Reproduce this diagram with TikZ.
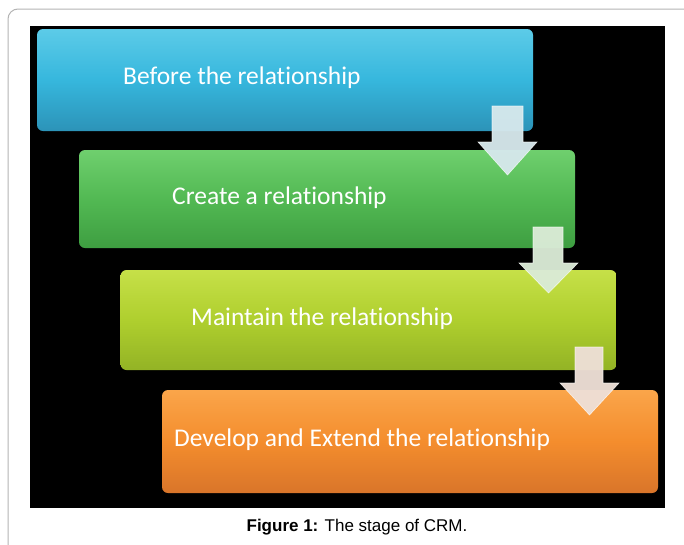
\documentclass[tikz,border=0pt]{standalone}
\usepackage{fontspec}
\setmainfont[Ligatures=NoCommon]{Carlito}
\newfontfamily\capfont{Liberation Sans}
\usetikzlibrary{calc}
\definecolor{frame}{HTML}{B4B4B4}
\definecolor{bluetop}{HTML}{5CCBE8}
\definecolor{bluemid}{HTML}{36B7DD}
\definecolor{bluebot}{HTML}{2C93B8}
\definecolor{greentop}{HTML}{6FCF6E}
\definecolor{greenmid}{HTML}{52B953}
\definecolor{greenbot}{HTML}{3E9E41}
\definecolor{limetop}{HTML}{C6E048}
\definecolor{limemid}{HTML}{AFCF2E}
\definecolor{limebot}{HTML}{93B325}
\definecolor{orangetop}{HTML}{FAA54A}
\definecolor{orangemid}{HTML}{F48D2D}
\definecolor{orangebot}{HTML}{D9752A}
\definecolor{arrowA}{HTML}{D6E8EC}
\definecolor{arrowB}{HTML}{DAEBD6}
\definecolor{arrowC}{HTML}{EEDFD6}
\tikzset{
  stagebox/.style={rectangle, rounded corners=6pt, minimum width=496pt, inner sep=0pt, draw=none},
  stagetext/.style={anchor=west, text=white, font=\fontsize{25.5}{30}\selectfont, inner sep=0pt},
  blockarrow/.style={draw=white, draw opacity=0.7, line width=0.6pt, fill opacity=0.96},
}
\begin{document}
\begin{tikzpicture}[x=1pt,y=-1pt]
\useasboundingbox (0,0) rectangle (684,544);
\fill[white] (0,0) rectangle (684,544);
\draw[frame, line width=1pt, rounded corners=10pt] (8,600) -- (8,9) -- (700,9);
\fill[black] (30,26) rectangle (665,508);
% boxes
\node[stagebox, minimum height=102pt, top color=bluetop, bottom color=bluebot, middle color=bluemid] (b1) at (285,80) {};
\node[stagebox, minimum height=98pt, top color=greentop, bottom color=greenbot, middle color=greenmid] (b2) at (327,199) {};
\node[stagebox, minimum height=100pt, top color=limetop, bottom color=limebot, middle color=limemid] (b3) at (368.5,320) {};
\node[stagebox, minimum height=103pt, top color=orangetop, bottom color=orangebot, middle color=orangemid] (b4) at (410,441.5) {};
% texts
\node[stagetext] (t1) at (123,78) {Before the relationship};
\node[stagetext] (t2) at (172,198) {Create a relationship};
\node[stagetext] (t3) at (191,319) {Maintain the relationship};
\node[stagetext] (t4) at (174,440) {Develop and Extend the relationship};
% arrows
\filldraw[blockarrow, fill=arrowA] (492,106) -- (523,106) -- (523,142) -- (537,142) -- (507.5,175) -- (478,142) -- (492,142) -- cycle;
\filldraw[blockarrow, fill=arrowB] (533,227) -- (563,227) -- (563,263) -- (578,263) -- (548.5,293) -- (519,263) -- (533,263) -- cycle;
\filldraw[blockarrow, fill=arrowC] (575,347) -- (603,347) -- (603,383) -- (619,383) -- (589.5,415) -- (560,383) -- (575,383) -- cycle;
% caption
\node[font=\capfont\fontsize{17}{20}\selectfont, inner sep=0pt] (cap) at (357,527) {\textbf{Figure 1:} The stage of CRM.};
\end{tikzpicture}
\end{document}
